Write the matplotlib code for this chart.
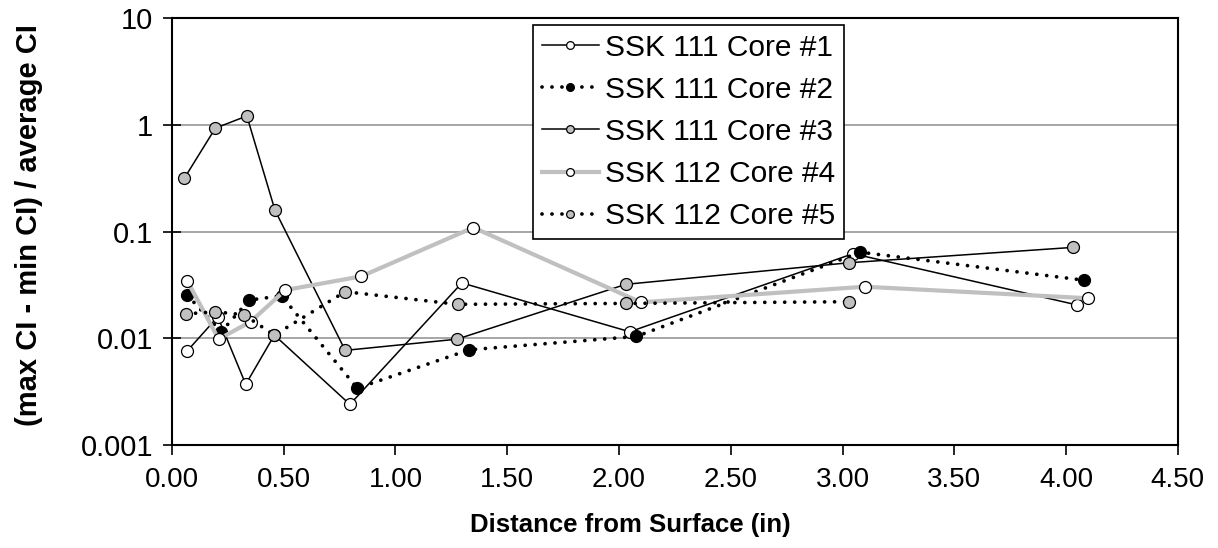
import matplotlib
matplotlib.use('Agg')
import matplotlib.pyplot as plt
from matplotlib.ticker import FuncFormatter, NullLocator

plt.rcParams['font.family'] = ['Liberation Sans', 'DejaVu Sans']

# depth (in) and (max CI - min CI) / average CI
core1_x = [0.068, 0.205, 0.33, 0.458, 0.796, 1.297, 2.048, 3.047, 4.05]
core1_y = [0.0076, 0.0159, 0.0037, 0.0107, 0.0024, 0.033, 0.0115, 0.062, 0.0205]

core2_x = [0.068, 0.22, 0.346, 0.49, 0.829, 1.33, 2.078, 3.08, 4.08]
core2_y = [0.0254, 0.0115, 0.0228, 0.025, 0.0034, 0.0078, 0.0104, 0.064, 0.035]

core3_x = [0.055, 0.194, 0.335, 0.461, 0.775, 1.275, 2.03, 3.03, 4.03]
core3_y = [0.315, 0.93, 1.21, 0.158, 0.0077, 0.0098, 0.032, 0.051, 0.071]

core4_x = [0.068, 0.209, 0.352, 0.507, 0.847, 1.348, 2.098, 3.099, 4.1]
core4_y = [0.0346, 0.0098, 0.0143, 0.0283, 0.038, 0.109, 0.0217, 0.0304, 0.0237]

core5_x = [0.061, 0.194, 0.322, 0.458, 0.775, 1.278, 2.03, 3.03]
core5_y = [0.0169, 0.0177, 0.0166, 0.0107, 0.0273, 0.0208, 0.0212, 0.022]

labels = ['SSK 111 Core #1', 'SSK 111 Core #2', 'SSK 111 Core #3',
          'SSK 112 Core #4', 'SSK 112 Core #5']

fig = plt.figure(figsize=(12.18, 5.48), dpi=100)
ax = fig.add_axes([0.1412, 0.188, 0.8258, 0.779])

dots = (0, (0.01, 2.65))
ms = 8.6
grey = '#c0c0c0'

ax.plot(core1_x, core1_y, '-', color='black', lw=1.1, marker='o', ms=ms,
        mfc='white', mec='black', mew=0.9, label=labels[0])
ax.plot(core2_x, core2_y, color='black', lw=2.7, linestyle=dots,
        dash_capstyle='round', marker='o', ms=ms, mfc='black', mec='black',
        mew=0.9, label=labels[1])
ax.plot(core3_x, core3_y, '-', color='black', lw=1.1, marker='o', ms=ms,
        mfc=grey, mec='black', mew=0.9, label=labels[2])
ax.plot(core4_x, core4_y, '-', color=grey, lw=3.0, marker='o', ms=ms,
        mfc='white', mec='black', mew=0.9, label=labels[3])
ax.plot(core5_x, core5_y, color='black', lw=2.7, linestyle=dots,
        dash_capstyle='round', marker='o', ms=ms, mfc=grey, mec='black',
        mew=0.9, label=labels[4])

ax.set_yscale('log')
ax.set_ylim(0.001, 10)
ax.set_xlim(0, 4.5)
ax.set_xticks([0, 0.5, 1, 1.5, 2, 2.5, 3, 3.5, 4, 4.5])
ax.xaxis.set_major_formatter(FuncFormatter(lambda v, p: '%.2f' % v))
ax.set_yticks([0.001, 0.01, 0.1, 1, 10])
ax.yaxis.set_major_formatter(FuncFormatter(lambda v, p: '%g' % v))
ax.yaxis.set_minor_locator(NullLocator())

ax.grid(axis='y', color='#a6a6a6', lw=1.4)
ax.set_axisbelow(True)
for s in ax.spines.values():
    s.set_linewidth(1.5)
    s.set_color('black')

ax.tick_params(axis='y', direction='inout', length=13, width=1.2,
               labelsize=21, pad=7)
ax.tick_params(axis='x', direction='out', length=7, width=1.2,
               labelsize=20, pad=9)

ax.set_xlabel('Distance from Surface (in)', fontsize=18.5, fontweight='bold')
ax.xaxis.set_label_coords(0.456, -0.16)
ax.set_ylabel('(max CI - min CI) / average CI', fontsize=21,
              fontweight='bold')
ax.yaxis.set_label_coords(-0.128, 0.515)

leg = ax.legend(loc='upper left', bbox_to_anchor=(0.359, 0.984),
                fontsize=21.5, frameon=True, fancybox=False, framealpha=1,
                edgecolor='black', handlelength=1.9, handletextpad=0.2,
                borderpad=0.3, labelspacing=0.47, borderaxespad=0,
                numpoints=1, markerscale=0.65)
leg.get_frame().set_linewidth(1.2)

fig.savefig('out.png', dpi=100)
